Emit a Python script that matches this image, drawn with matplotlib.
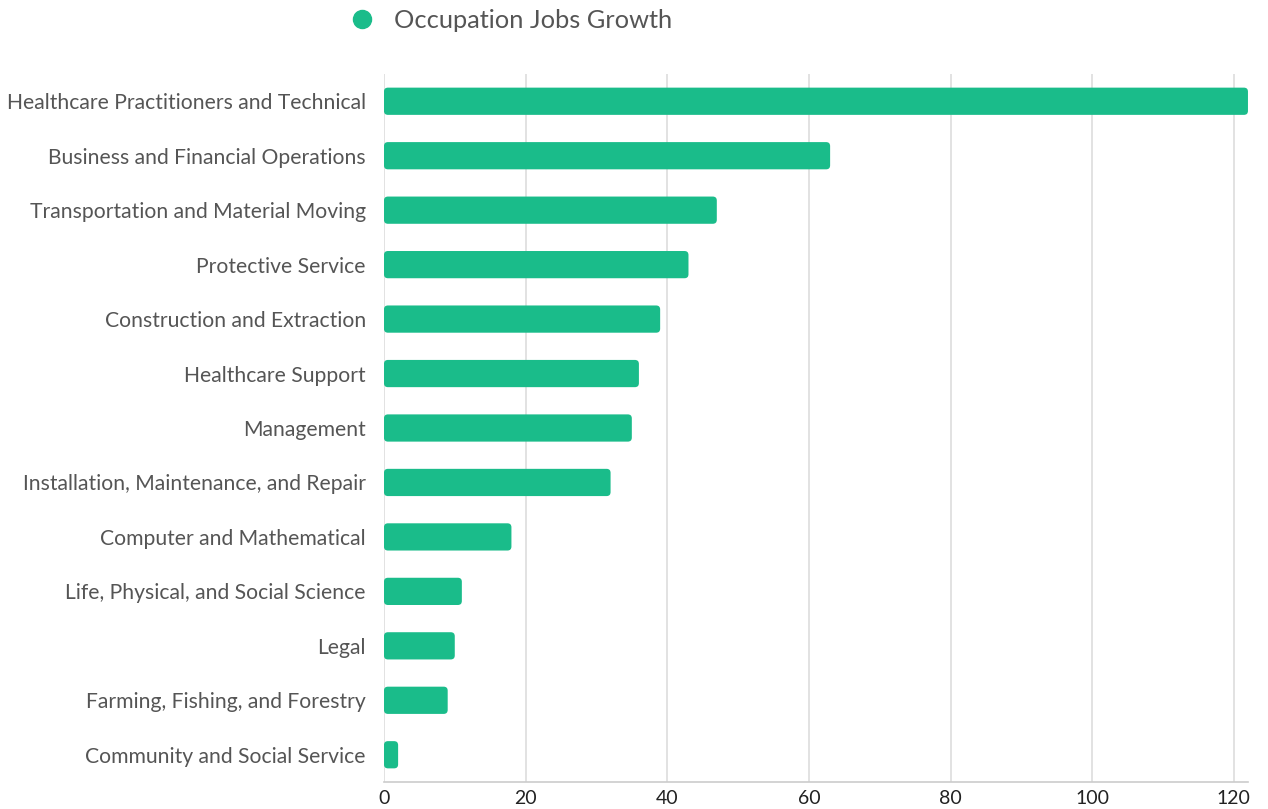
import matplotlib.pyplot as plt
from matplotlib.lines import Line2D
from matplotlib.patches import FancyBboxPatch

categories = [
    "Healthcare Practitioners and Technical",
    "Business and Financial Operations",
    "Transportation and Material Moving",
    "Protective Service",
    "Construction and Extraction",
    "Healthcare Support",
    "Management",
    "Installation, Maintenance, and Repair",
    "Computer and Mathematical",
    "Life, Physical, and Social Science",
    "Legal",
    "Farming, Fishing, and Forestry",
    "Community and Social Service",
]
growth = [122, 63, 47, 43, 39, 36, 35, 32, 18, 11, 10, 9, 2]
ticks = [0, 20, 40, 60, 80, 100, 120]

green = "#1abc8a"
text_col = "#555555"

plt.rcParams['font.family'] = ['Lato', 'DejaVu Sans']

fig = plt.figure(figsize=(12.68, 8.09), dpi=100)
ax = fig.add_axes([0.3028, 0.0334, 0.6814, 0.8751])

ypos = list(range(len(categories)))
bars = ax.barh(ypos, growth, height=0.5, color=green, zorder=3)

# rounded corners: swap each rect for a rounded box
px_x = 0.6814 * 1268 / 122.0
px_y = 0.8751 * 809 / len(categories)
for b in bars:
    x0, y0 = b.get_x(), b.get_y()
    w, h = b.get_width(), b.get_height()
    b.remove()
    ax.add_patch(FancyBboxPatch((x0, y0), w, h,
                                boxstyle="round,pad=0,rounding_size=%f" % (4 / px_x),
                                mutation_aspect=px_x / px_y,
                                facecolor=green, edgecolor='none', zorder=3))

ax.set_yticks(ypos)
ax.set_yticklabels(categories, fontsize=15.2, color=text_col)
ax.set_ylim(len(categories) - 0.5, -0.5)
ax.set_xlim(0, 122)
ax.set_xticks(ticks)
ax.set_xticklabels([str(t) for t in ticks], fontsize=14, color="#222222")

ax.grid(axis='x', color="#dddddd", linewidth=1.2, zorder=0)
for s in ['top', 'right', 'left']:
    ax.spines[s].set_visible(False)
ax.spines['bottom'].set_color("#cccccc")
ax.spines['bottom'].set_linewidth(1.2)
ax.tick_params(axis='both', length=0)
ax.tick_params(axis='y', pad=13)
ax.tick_params(axis='x', pad=6)

handle = Line2D([], [], marker='o', linestyle='', color=green, markersize=13)
fig.legend([handle], ["Occupation Jobs Growth"], loc='center',
           bbox_to_anchor=(0.398, 0.975), frameon=False, fontsize=18.3,
           labelcolor=text_col, handletextpad=0.25)

fig.savefig("out.png", dpi=100)
